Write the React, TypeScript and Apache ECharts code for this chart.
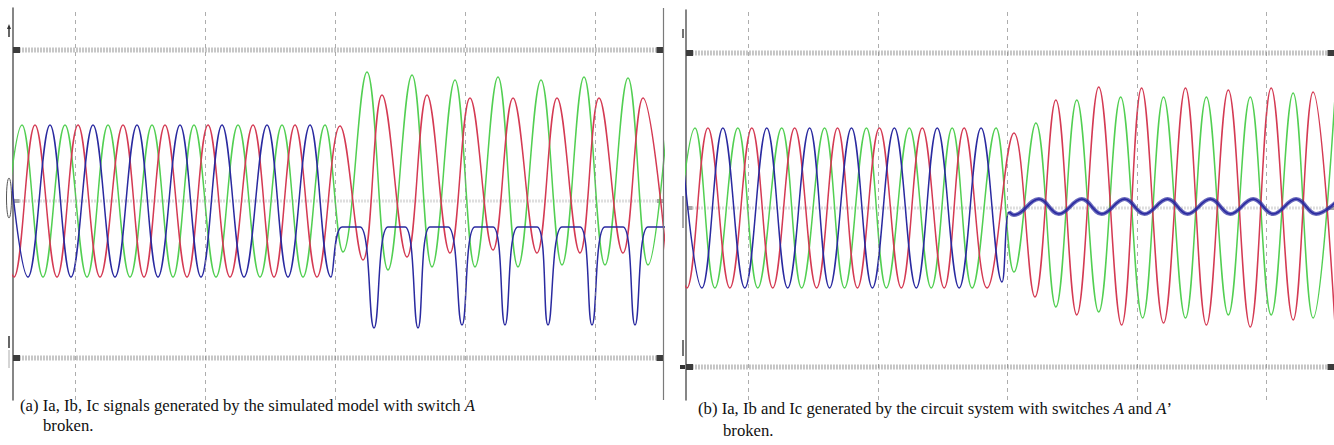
import React, { useEffect, useRef } from "react";
import * as echarts from "echarts";

// ---------- DATA ----------
// x: samples from the left edge of each panel (0..650), y: current (arbitrary units, 0 = zero level)

// Panel (a): simulated model, switch A broken
const simIa: [number, number][] = [
  [-7, 76], [15, -76], [37, 76], [58, -76], [80, 76], [102, -76], [124, 76], [145, -76],
  [167, 76], [188, -76], [209, 76], [231, -76], [254, 76], [275, -76], [297, 76], [318, -76],
  [329, -26], [347, -26], [361, -127], [375, -26], [392, -26], [405, -127], [417, -26], [435, -26],
  [449, -124], [462, -26], [480, -26], [492, -124], [505, -26], [524, -26], [535, -124], [549, -26],
  [567, -26], [579, -124], [592, -26], [610, -26], [622, -124], [635, -26], [653, -26],
];
const simIb: [number, number][] = [
  [-12, -76], [9, 76], [30, -76], [52, 76], [74, -76], [95, 76], [117, -76], [139, 76],
  [160, -76], [181, 76], [203, -76], [225, 76], [247, -76], [269, 76], [290, -76], [312, 76],
  [330, -51], [354, 129], [375, -69], [399, 126], [419, -66], [442, 121], [462, -66], [485, 124],
  [505, -66], [528, 121], [549, -64], [571, 124], [592, -64], [615, 123], [635, -64], [658, 124],
];
const simIc: [number, number][] = [
  [-21, 76], [1, -76], [22, 76], [44, -76], [65, 76], [87, -76], [110, 76], [131, -76],
  [152, 76], [174, -76], [195, 76], [217, -76], [240, 76], [261, -76], [282, 76], [304, -76],
  [327, 75], [350, -59], [369, 106], [394, -56], [414, 106], [437, -52], [457, 103], [480, -49],
  [500, 103], [524, -52], [544, 103], [567, -52], [586, 103], [610, -52], [630, 103], [653, -52],
];

// Panel (b): circuit system, switches A and A' broken
const cirIa: [number, number][] = [
  [-6, 80], [16, -80], [37, 80], [59, -80], [81, 80], [102, -80], [124, 80], [144, -80],
  [166, 80], [187, -80], [209, 80], [231, -80], [252, 80], [274, -80], [296, 80], [317, -74],
  [324, -4], [329, -7], [354, 9], [374, -6], [397, 9], [417, -6], [440, 9], [460, -6],
  [483, 9], [503, -6], [526, 9], [546, -6], [569, 9], [589, -6], [612, 9], [632, -6], [655, 9],
];
const cirIb: [number, number][] = [
  [-13, -80], [9, 80], [29, -80], [52, 80], [72, -80], [96, 80], [116, -80], [139, 80],
  [159, -80], [181, 80], [201, -80], [224, 80], [246, -80], [267, 80], [287, -80], [311, 80],
  [329, -64], [351, 85], [371, -99], [392, 108], [414, -104], [436, 111], [458, -110], [479, 111],
  [501, -110], [522, 111], [544, -107], [566, 111], [587, -107], [609, 115], [629, -110], [651, 111],
];
const cirIc: [number, number][] = [
  [-21, 80], [1, -80], [22, 80], [44, -80], [66, 80], [87, -80], [109, 80], [131, -80],
  [152, 80], [172, -80], [194, 80], [216, -80], [237, 80], [259, -80], [279, 80], [302, -80],
  [329, 75], [350, -89], [371, 108], [392, -107], [414, 121], [437, -117], [457, 120], [479, -115],
  [501, 120], [522, -117], [544, 118], [566, -119], [587, 120], [609, -112], [629, 116], [651, -117],
];
// index where the broken-switch ripple band starts in panel (b) Ia
const cirFaultIndex = 15;

// Other scope channel traces (flat levels) and zero level, per panel
const simTraceLevels = [151, -157];
const cirTraceLevels = [155, -159];
const zeroLevel = 0;
const traceSpan = [3.5, 647];
// vertical time divisions
const divisions = [62.5, 192.5, 322.5, 452.5, 582.5];

const captionA = "(a) Ia, Ib, Ic signals generated by the simulated model with switch {i|A}";
const captionA2 = "broken.";
const captionB = "(b) Ia, Ib and Ic generated by the circuit system with switches {i|A} and {i|A}\u2019";
const captionB2 = "broken.";

// ---------- STYLE ----------
const GREEN = "#52cf52";
const RED = "#d43a53";
const BLUE = "#2a2aa0";
const SERIF = '"Liberation Serif", "Times New Roman", serif';
const CAPTION_SIZE = 16.7;

function wave(name: string, data: [number, number][], color: string, gi: number, width = 1.5, opacity = 1) {
  return {
    type: "line",
    name,
    xAxisIndex: gi,
    yAxisIndex: gi,
    data,
    showSymbol: false,
    smooth: 0.4,
    silent: true,
    z: 3,
    lineStyle: { color, width, opacity },
    itemStyle: { color },
  };
}

function trace(level: number, gi: number, dark: boolean, extra: any = {}) {
  return {
    type: "line",
    xAxisIndex: gi,
    yAxisIndex: gi,
    data: [[traceSpan[0], level], [traceSpan[1], level]],
    showSymbol: true,
    symbol: "rect",
    symbolSize: dark ? [7, 6] : [6, 4],
    silent: true,
    z: 1,
    itemStyle: { color: dark ? "#3c3c3c" : "#a8a8a8" },
    lineStyle: { color: dark ? "#8e8e8e" : "#bdbdbd", width: dark ? 5 : 3, type: [1, 2] },
    ...extra,
  };
}

function gridLines(gi: number, border: boolean) {
  const data: any[] = divisions.map((x) => ({ xAxis: x }));
  if (border) data.push({ xAxis: 650, lineStyle: { type: "solid", color: "#7a7a7a", width: 1.2, opacity: 1 } });
  return {
    silent: true,
    symbol: "none",
    label: { show: false },
    lineStyle: { color: "#8a8a8a", type: [4, 4], width: 1, opacity: 0.7 },
    data,
  };
}

const yAxisBase = {
  type: "value",
  axisLine: { show: true, onZero: false, lineStyle: { color: "#5e5e5e", width: 1.5 } },
  axisTick: { show: false },
  axisLabel: { show: false },
  splitLine: { show: false },
};

export default function App() {
  const ref = useRef<HTMLDivElement>(null);
  useEffect(() => {
    if (!ref.current) return;
    const chart = echarts.init(ref.current, null, { renderer: "svg" });
    const textStyle = {
      fontFamily: SERIF,
      fontSize: CAPTION_SIZE,
      fill: "#111",
      verticalAlign: "middle",
      rich: { i: { fontStyle: "italic", fontFamily: SERIF, fontSize: CAPTION_SIZE, fill: "#111" } },
    };
    const option: any = {
      animation: false,
      backgroundColor: "#ffffff",
      grid: [
        { left: 13, top: 8, width: 650, height: 392 },
        { left: 686, top: 10, width: 650, height: 390 },
      ],
      xAxis: [0, 1].map((i) => ({ type: "value", gridIndex: i, min: 0, max: 650, show: false })),
      yAxis: [
        { ...yAxisBase, gridIndex: 0, min: -199, max: 193 },
        { ...yAxisBase, gridIndex: 1, min: -192, max: 198 },
      ],
      series: [
        trace(zeroLevel, 0, false, { markLine: gridLines(0, true) }),
        ...simTraceLevels.map((l) => trace(l, 0, true)),
        trace(zeroLevel, 1, false, { markLine: gridLines(1, false) }),
        ...cirTraceLevels.map((l) => trace(l, 1, true)),
        wave("Ib", simIb, GREEN, 0),
        wave("Ic", simIc, RED, 0),
        wave("Ia", simIa, BLUE, 0),
        wave("Ib", cirIb, GREEN, 1),
        wave("Ic", cirIc, RED, 1),
        wave("Ia", cirIa, BLUE, 1),
        wave("Ia", cirIa.slice(cirFaultIndex + 1), BLUE, 1, 4, 0.7),
      ],
      graphic: [
        // channel markers, panel (a)
        { type: "line", shape: { x1: 9, y1: 27, x2: 9, y2: 37 }, style: { stroke: "#333", lineWidth: 1.5 } },
        { type: "polygon", shape: { points: [[9, 24], [7, 29], [11, 29]] }, style: { fill: "#333" } },
        { type: "ellipse", shape: { cx: 9, cy: 198, rx: 2.5, ry: 20 }, style: { fill: "none", stroke: "#555", lineWidth: 1 } },
        { type: "line", shape: { x1: 9, y1: 336, x2: 9, y2: 348 }, style: { stroke: "#333", lineWidth: 1.5 } },
        { type: "line", shape: { x1: 9, y1: 350, x2: 9, y2: 368 }, style: { stroke: "#aaa", lineWidth: 1 } },
        // channel markers, panel (b)
        { type: "line", shape: { x1: 683, y1: 29, x2: 683, y2: 38 }, style: { stroke: "#444", lineWidth: 1.5 } },
        { type: "line", shape: { x1: 683, y1: 196, x2: 683, y2: 228 }, style: { stroke: "#aaa", lineWidth: 2 } },
        { type: "line", shape: { x1: 683, y1: 340, x2: 683, y2: 356 }, style: { stroke: "#444", lineWidth: 1.5 } },
        { type: "rect", shape: { x: 680, y: 365, width: 5, height: 4 }, style: { fill: "#333" } },
        // captions
        { type: "text", x: 20, y: 405, style: { ...textStyle, text: captionA } },
        { type: "text", x: 43, y: 425, style: { ...textStyle, text: captionA2 } },
        { type: "text", x: 698, y: 408, style: { ...textStyle, text: captionB } },
        { type: "text", x: 723, y: 430, style: { ...textStyle, text: captionB2 } },
      ],
    };
    chart.setOption(option);
    return () => chart.dispose();
  }, []);
  return (
    <div
      ref={ref}
      style={{ position: "fixed", left: 0, top: 0, width: 1334, height: 445, background: "#fff" }}
    />
  );
}
